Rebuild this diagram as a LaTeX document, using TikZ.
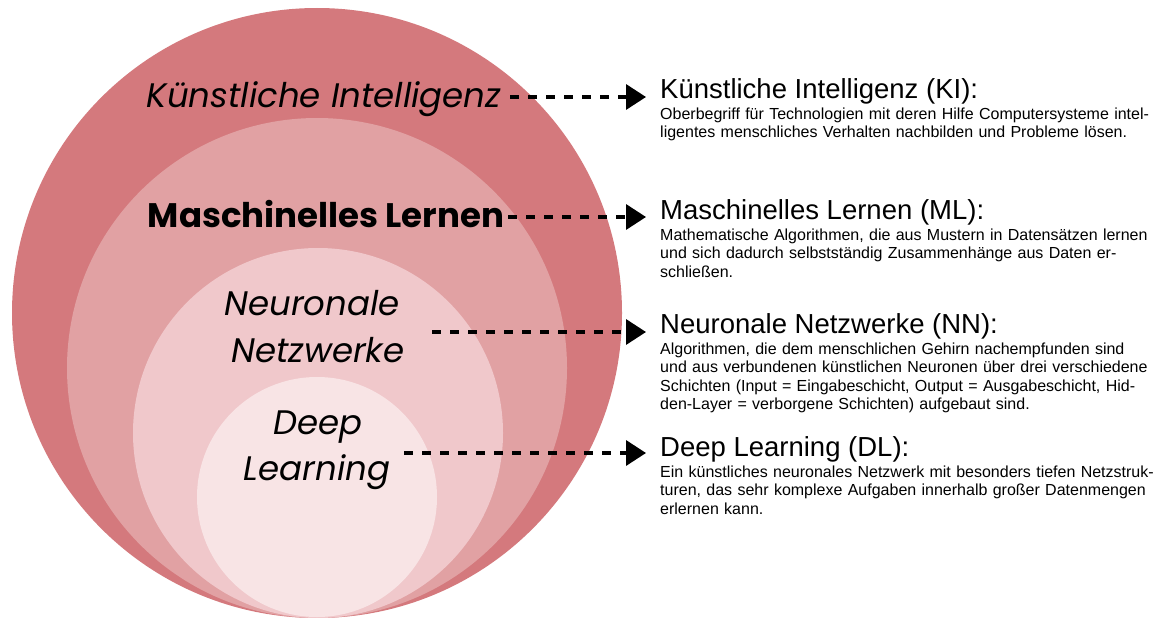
\documentclass[tikz,border=0pt]{standalone}
\usepackage{fontspec}
\setmainfont{Liberation Sans}
\newfontfamily\ringfont{Poppins}
\usetikzlibrary{arrows.meta}

\definecolor{ringA}{HTML}{D4797D}
\definecolor{ringB}{HTML}{E1A1A3}
\definecolor{ringC}{HTML}{F0C8CB}
\definecolor{ringD}{HTML}{F8E4E5}

% one fully justified line inside a description block
\newcommand\jline[1]{\makebox[\linewidth][s]{#1}\\}

\begin{document}
\begin{tikzpicture}[x=1pt,y=-1pt,
  ringlabel/.style={inner sep=0pt, anchor=base, text=black},
  itlabel/.style={ringlabel, font=\ringfont\itshape\fontsize{34}{40}\selectfont},
  bflabel/.style={ringlabel, font=\ringfont\bfseries\fontsize{34}{40}\selectfont},
  headline/.style={inner sep=0pt, anchor=base west, font=\fontsize{27.5}{33}\selectfont},
  bodytext/.style={inner sep=0pt, anchor=base west, text width=487pt, align=left,
                   font=\fontsize{16}{18.5}\selectfont},
  conn/.style={line width=3.5pt, dash pattern=on 9pt off 9pt,
               -{Triangle[length=20pt,width=25pt]}, shorten >=14pt}
]
\useasboundingbox (0,0) rectangle (1156,618);

% nested rings, all touching at the bottom
\fill[ringA] (317,313) circle[radius=305pt];
\fill[ringB] (317,368) circle[radius=250pt];
\fill[ringC] (318,433) circle[radius=185pt];
\fill[ringD] (317,497) circle[radius=120pt];

% ring labels
\node[itlabel] (kiL) at (324,107) {Künstliche Intelligenz};
\node[bflabel] (mlL) at (326,227) {Maschinelles Lernen};
\node[itlabel] (nnL1) at (312,315) {Neuronale};
\node[itlabel] (nnL2) at (318,362) {Netzwerke};
\node[itlabel] (dlL1) at (318,434) {Deep};
\node[itlabel] (dlL2) at (317,480) {Learning};

% descriptions
\node[headline] (kiT) at (660,98) {Künstliche Intelligenz (KI):};
\node[bodytext] (kiB) at (660,119) {%
  \jline{Oberbegriff für Technologien mit deren Hilfe Computersysteme intel-}%
  ligentes menschliches Verhalten nachbilden und Probleme lösen.};

\node[headline] (mlT) at (660,219) {Maschinelles Lernen (ML):};
\node[bodytext] (mlB) at (660,240) {%
  \jline{Mathematische Algorithmen, die aus Mustern in Datensätzen lernen}%
  \jline{und sich dadurch selbstständig Zusammenhänge aus Daten er-}%
  schließen.};

\node[headline] (nnT) at (660,333) {Neuronale Netzwerke (NN):};
\node[bodytext] (nnB) at (660,354) {%
  \jline{Algorithmen, die dem menschlichen Gehirn nachempfunden sind}%
  \jline{und aus verbundenen künstlichen Neuronen über drei verschiedene}%
  \jline{Schichten (Input = Eingabeschicht, Output = Ausgabeschicht, Hid-}%
  den-Layer = verborgene Schichten) aufgebaut sind.};

\node[headline] (dlT) at (660,456) {Deep Learning (DL):};
\node[bodytext] (dlB) at (660,477) {%
  \jline{Ein künstliches neuronales Netzwerk mit besonders tiefen Netzstruk-}%
  \jline{turen, das sehr komplexe Aufgaben innerhalb großer Datenmengen}%
  erlernen kann.};

% connectors from the rings to their descriptions
\coordinate (kiS) at (510,97);
\coordinate (mlS) at (508,217);
\coordinate (nnS) at (432,332);
\coordinate (dlS) at (404,453);
\draw[conn] (kiS) -- (kiS -| kiT.west);
\draw[conn] (mlS) -- (mlS -| mlT.west);
\draw[conn] (nnS) -- (nnS -| nnT.west);
\draw[conn] (dlS) -- (dlS -| dlT.west);
\end{tikzpicture}
\end{document}
